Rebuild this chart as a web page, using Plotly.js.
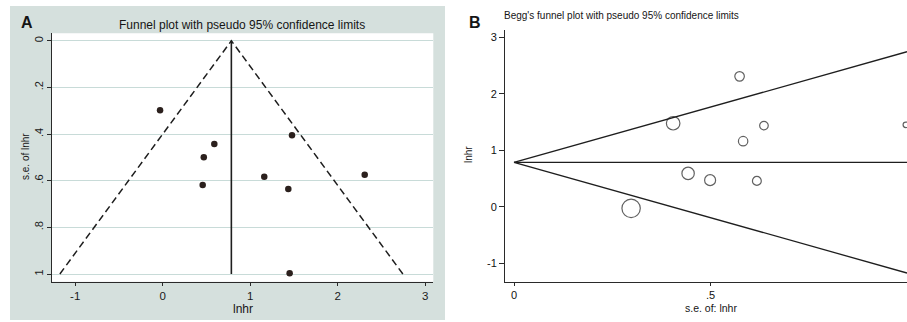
<!DOCTYPE html>
<html><head><meta charset="utf-8">
<script src="https://cdn.plot.ly/plotly-3.0.1.min.js"></script>
<style>html,body{margin:0;padding:0;background:#fff;} #chart{width:907px;height:322px;}</style>
</head><body><div id="chart"></div>
<script>
// Study-level data (log hazard ratio and its standard error)
const lnhr   = [-0.03, 0.59, 0.47, 1.478, 0.457, 1.161, 1.436, 2.309, 1.451];
const seLnhr = [0.298, 0.443, 0.499, 0.405, 0.618, 0.583, 0.636, 0.574, 0.997];
const pooledLnhr = 0.785;
const zCrit = 1.96;
const seMax = 1;
// Tick labels
const seTicksA = [0, 0.2, 0.4, 0.6, 0.8, 1];
const seTickTextA = ['0', '.2', '.4', '.6', '.8', '1'];
const lnhrTicksA = [-1, 0, 1, 2, 3];
const lnhrTickTextA = ['-1', '0', '1', '2', '3'];
const seTicksB = [0, 0.5, 1];
const seTickTextB = ['0', '.5', '1'];
const lnhrTicksB = [-1, 0, 1, 2, 3];
const lnhrTickTextB = ['-1', '0', '1', '2', '3'];

const W = 907, H = 322;
const px = v => v / W, py = v => 1 - v / H;
const FONT = 'Liberation Sans, Arial, sans-serif';
const ink = '#1e1e1e';

const traces = [
  { // A: pseudo 95% limits
    x: [pooledLnhr - zCrit * seMax, pooledLnhr, pooledLnhr + zCrit * seMax],
    y: [seMax, 0, seMax], xaxis: 'x', yaxis: 'y', mode: 'lines',
    line: { color: ink, width: 1.5, dash: '7px,4px' }, hoverinfo: 'skip'
  },
  { // A: pooled estimate
    x: [pooledLnhr, pooledLnhr], y: [0, seMax], xaxis: 'x', yaxis: 'y', mode: 'lines',
    line: { color: ink, width: 1.6 }, hoverinfo: 'skip'
  },
  { // A: studies
    x: lnhr, y: seLnhr, xaxis: 'x', yaxis: 'y', mode: 'markers',
    marker: { color: '#2b201d', size: 6.5 }
  },
  { // B: upper limit
    x: [0, seMax], y: [pooledLnhr, pooledLnhr + zCrit * seMax], xaxis: 'x2', yaxis: 'y2',
    mode: 'lines', line: { color: ink, width: 1.3 }, hoverinfo: 'skip'
  },
  { // B: lower limit
    x: [0, seMax], y: [pooledLnhr, pooledLnhr - zCrit * seMax], xaxis: 'x2', yaxis: 'y2',
    mode: 'lines', line: { color: ink, width: 1.3 }, hoverinfo: 'skip'
  },
  { // B: pooled
    x: [0, seMax], y: [pooledLnhr, pooledLnhr], xaxis: 'x2', yaxis: 'y2',
    mode: 'lines', line: { color: ink, width: 1.3 }, hoverinfo: 'skip'
  },
  { // B: studies, area ~ inverse variance
    x: seLnhr, y: lnhr, xaxis: 'x2', yaxis: 'y2', mode: 'markers',
    marker: { symbol: 'circle-open', color: ink, size: seLnhr.map(s => 1 / (s * s)),
      sizemode: 'area', sizeref: 0.0666, line: { width: 1.2, color: ink } }
  }
];

const axisCommon = {
  showline: true, linecolor: '#2a2a2a', linewidth: 1, ticks: 'outside', tickcolor: '#2a2a2a',
  tickwidth: 1, zeroline: false, fixedrange: true, tickmode: 'array'
};

function note(text, x, y, size, opts) {
  return Object.assign({ text: text, xref: 'paper', yref: 'paper', x: px(x), y: py(y),
    showarrow: false, xanchor: 'center', yanchor: 'middle',
    font: { family: FONT, size: size, color: '#151515' } }, opts || {});
}

const layout = {
  width: W, height: H, margin: { l: 0, r: 0, t: 0, b: 0 },
  paper_bgcolor: '#ffffff', plot_bgcolor: 'rgba(0,0,0,0)', showlegend: false,
  font: { family: FONT, color: '#222' },
  xaxis: Object.assign({}, axisCommon, {
    domain: [px(52), px(433.3)], range: [-1.265, 3.093], anchor: 'y',
    tickvals: lnhrTicksA, ticktext: lnhrTickTextA, ticklen: 3, showgrid: false,
    tickfont: { family: FONT, size: 11.5, color: '#1a1a1a' }
  }),
  yaxis: Object.assign({}, axisCommon, {
    domain: [py(281.7), py(33.3)], range: [1.033, -0.032], anchor: 'x',
    tickvals: seTicksA, ticktext: seTickTextA, tickangle: -90, ticklen: 4,
    showgrid: true, gridcolor: '#c8dbd8', gridwidth: 1,
    tickfont: { family: FONT, size: 11, color: '#1a1a1a' }
  }),
  xaxis2: Object.assign({}, axisCommon, {
    domain: [px(505), 1], range: [-0.0229, 1.0], anchor: 'y2',
    tickvals: seTicksB, ticktext: seTickTextB, ticklen: 3, showgrid: false,
    tickfont: { family: FONT, size: 11, color: '#111' }
  }),
  yaxis2: Object.assign({}, axisCommon, {
    domain: [py(281.7), py(30)], range: [-1.329, 3.13], anchor: 'x2',
    tickvals: lnhrTicksB, ticktext: lnhrTickTextB, ticklen: 5, showgrid: false,
    tickfont: { family: FONT, size: 11, color: '#111' }
  }),
  shapes: [
    { type: 'rect', xref: 'paper', yref: 'paper', x0: px(10), x1: px(445), y0: py(320), y1: py(6),
      fillcolor: '#d5e0dd', line: { width: 0 }, layer: 'below' },
    { type: 'rect', xref: 'paper', yref: 'paper', x0: px(52), x1: px(433.3), y0: py(281.7), y1: py(33.3),
      fillcolor: '#ffffff', line: { width: 0 }, layer: 'below' }
  ],
  annotations: [
    note('<b>A</b>', 27, 22, 16),
    note('Funnel plot with pseudo 95% confidence limits', 242, 25, 12),
    note('lnhr', 242.5, 309, 12),
    note('s.e. of lnhr', 25, 157, 10, { textangle: -90 }),
    note('<b>B</b>', 475, 22, 16),
    note("Begg's funnel plot with pseudo 95% confidence limits", 502, 16, 10, { xanchor: 'left' }),
    note('s.e. of: lnhr', 710.5, 308, 10.5),
    note('lnhr', 468, 155, 10, { textangle: -90 })
  ]
};

Plotly.newPlot('chart', traces, layout, { staticPlot: true, displayModeBar: false });
</script></body></html>
